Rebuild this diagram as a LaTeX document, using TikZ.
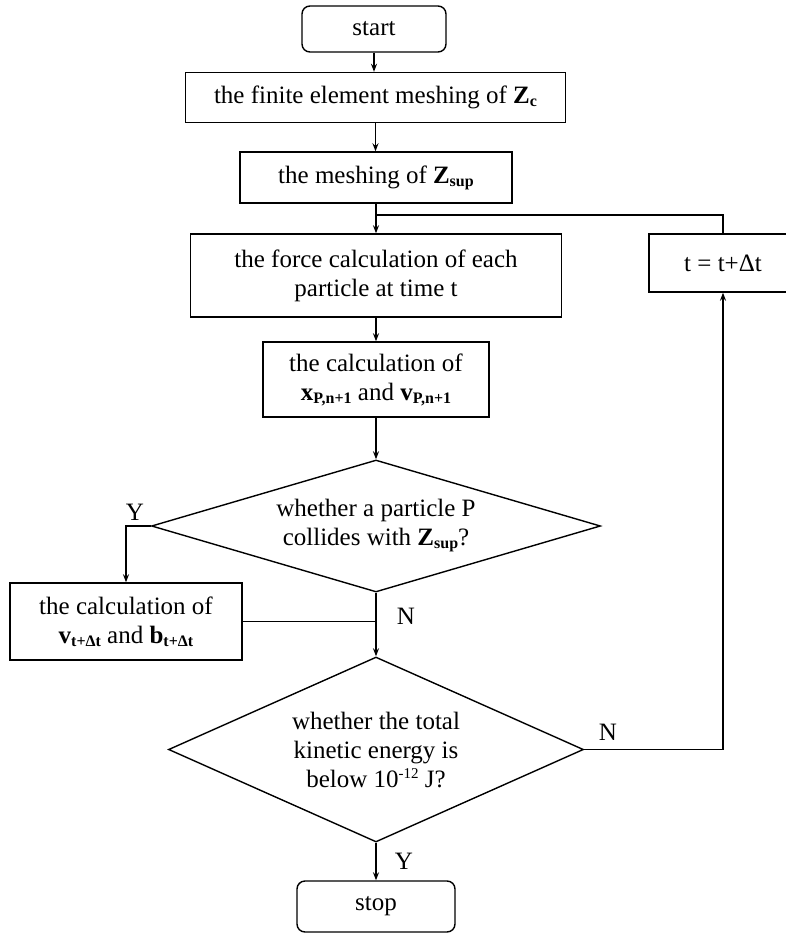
\documentclass[tikz,border=0pt]{standalone}
\usepackage{fontspec}
\setmainfont{Liberation Serif}
\usetikzlibrary{shapes.geometric,arrows.meta}
\newcommand\sbx[1]{\raisebox{-3pt}{\fontsize{16}{16}\selectfont\bfseries #1}}
\newcommand\spx[1]{\raisebox{9pt}{\fontsize{15}{15}\selectfont #1}}
\tikzset{
 base/.style={draw=black, line width=1.4pt, inner sep=0pt, align=center, font=\fontsize{25}{29}\selectfont},
 procbox/.style={base, rectangle},
 termbox/.style={base, rectangle, rounded corners=8pt},
 decbox/.style={base, diamond},
 link/.style={line width=1.4pt},
 arr/.style={link, -{Stealth[length=8pt,width=6pt]}},
 lbl/.style={font=\fontsize{25}{29}\selectfont, inner sep=0pt},
}
\begin{document}
\begin{tikzpicture}[x=1pt,y=-1pt]
\useasboundingbox (0,0) rectangle (786,934);
\clip (0,0) rectangle (786,934);
\node[termbox, minimum width=144pt, minimum height=46pt] (start) at (374,29) {start};
\node[procbox, minimum width=380pt, minimum height=50pt] (mesh1) at (375.5,97.5) {the finite element meshing of \textbf{Z}\sbx{c}};
\node[procbox, minimum width=272pt, minimum height=51pt] (mesh2) at (376,177.5) {the meshing of \textbf{Z}\sbx{sup}};
\node[procbox, minimum width=371pt, minimum height=83pt] (force) at (376,275.5) {the force calculation of each\\particle at time t};
\node[procbox, minimum width=226pt, minimum height=75pt] (calc1) at (376,379.5) {the calculation of\\\textbf{x}\sbx{P,n+1} and \textbf{v}\sbx{P,n+1}};
\node[decbox, minimum width=449pt, minimum height=132pt, aspect=3.4] (dec1) at (376,526) {whether a particle P\\collides with \textbf{Z}\sbx{sup}?};
\node[procbox, minimum width=232pt, minimum height=77pt] (calc2) at (126,621.5) {the calculation of\\\textbf{v}\sbx{t+Δt} and \textbf{b}\sbx{t+Δt}};
\node[decbox, minimum width=415pt, minimum height=185pt, aspect=2.24] (dec2) at (376,749.5) {whether the total\\kinetic energy is\\below 10\spx{-12} J?};
\node[termbox, minimum width=158pt, minimum height=51pt] (stop) at (376,906.5) {stop};
\node[procbox, minimum width=148pt, minimum height=58pt] (tstep) at (723,263) {t = t+Δt};
\coordinate (J) at (376,215);
\draw[arr] (start.south) -- (start.south |- mesh1.north);
\draw[arr] (mesh1.south) -- (mesh1.south |- mesh2.north);
\draw[arr] (mesh2.south) -- (force.north);
\draw[link] (tstep.north) |- (J);
\draw[arr] (force.south) -- (calc1.north);
\draw[arr] (calc1.south) -- (dec1.north);
\draw[arr] (dec1.west) -| (calc2.north);
\draw[arr] (dec1.south) -- (dec2.north);
\draw[link] (calc2.east) -- (calc2.east -| dec1.south);
\draw[arr] (dec2.east) -| (tstep.south);
\draw[arr] (dec2.south) -- (stop.north);
\node[lbl] (y1) at (135,512) {Y};
\node[lbl] (n1) at (406,616) {N};
\node[lbl] (n2) at (608,732) {N};
\node[lbl] (y2) at (404,861) {Y};
\end{tikzpicture}
\end{document}
